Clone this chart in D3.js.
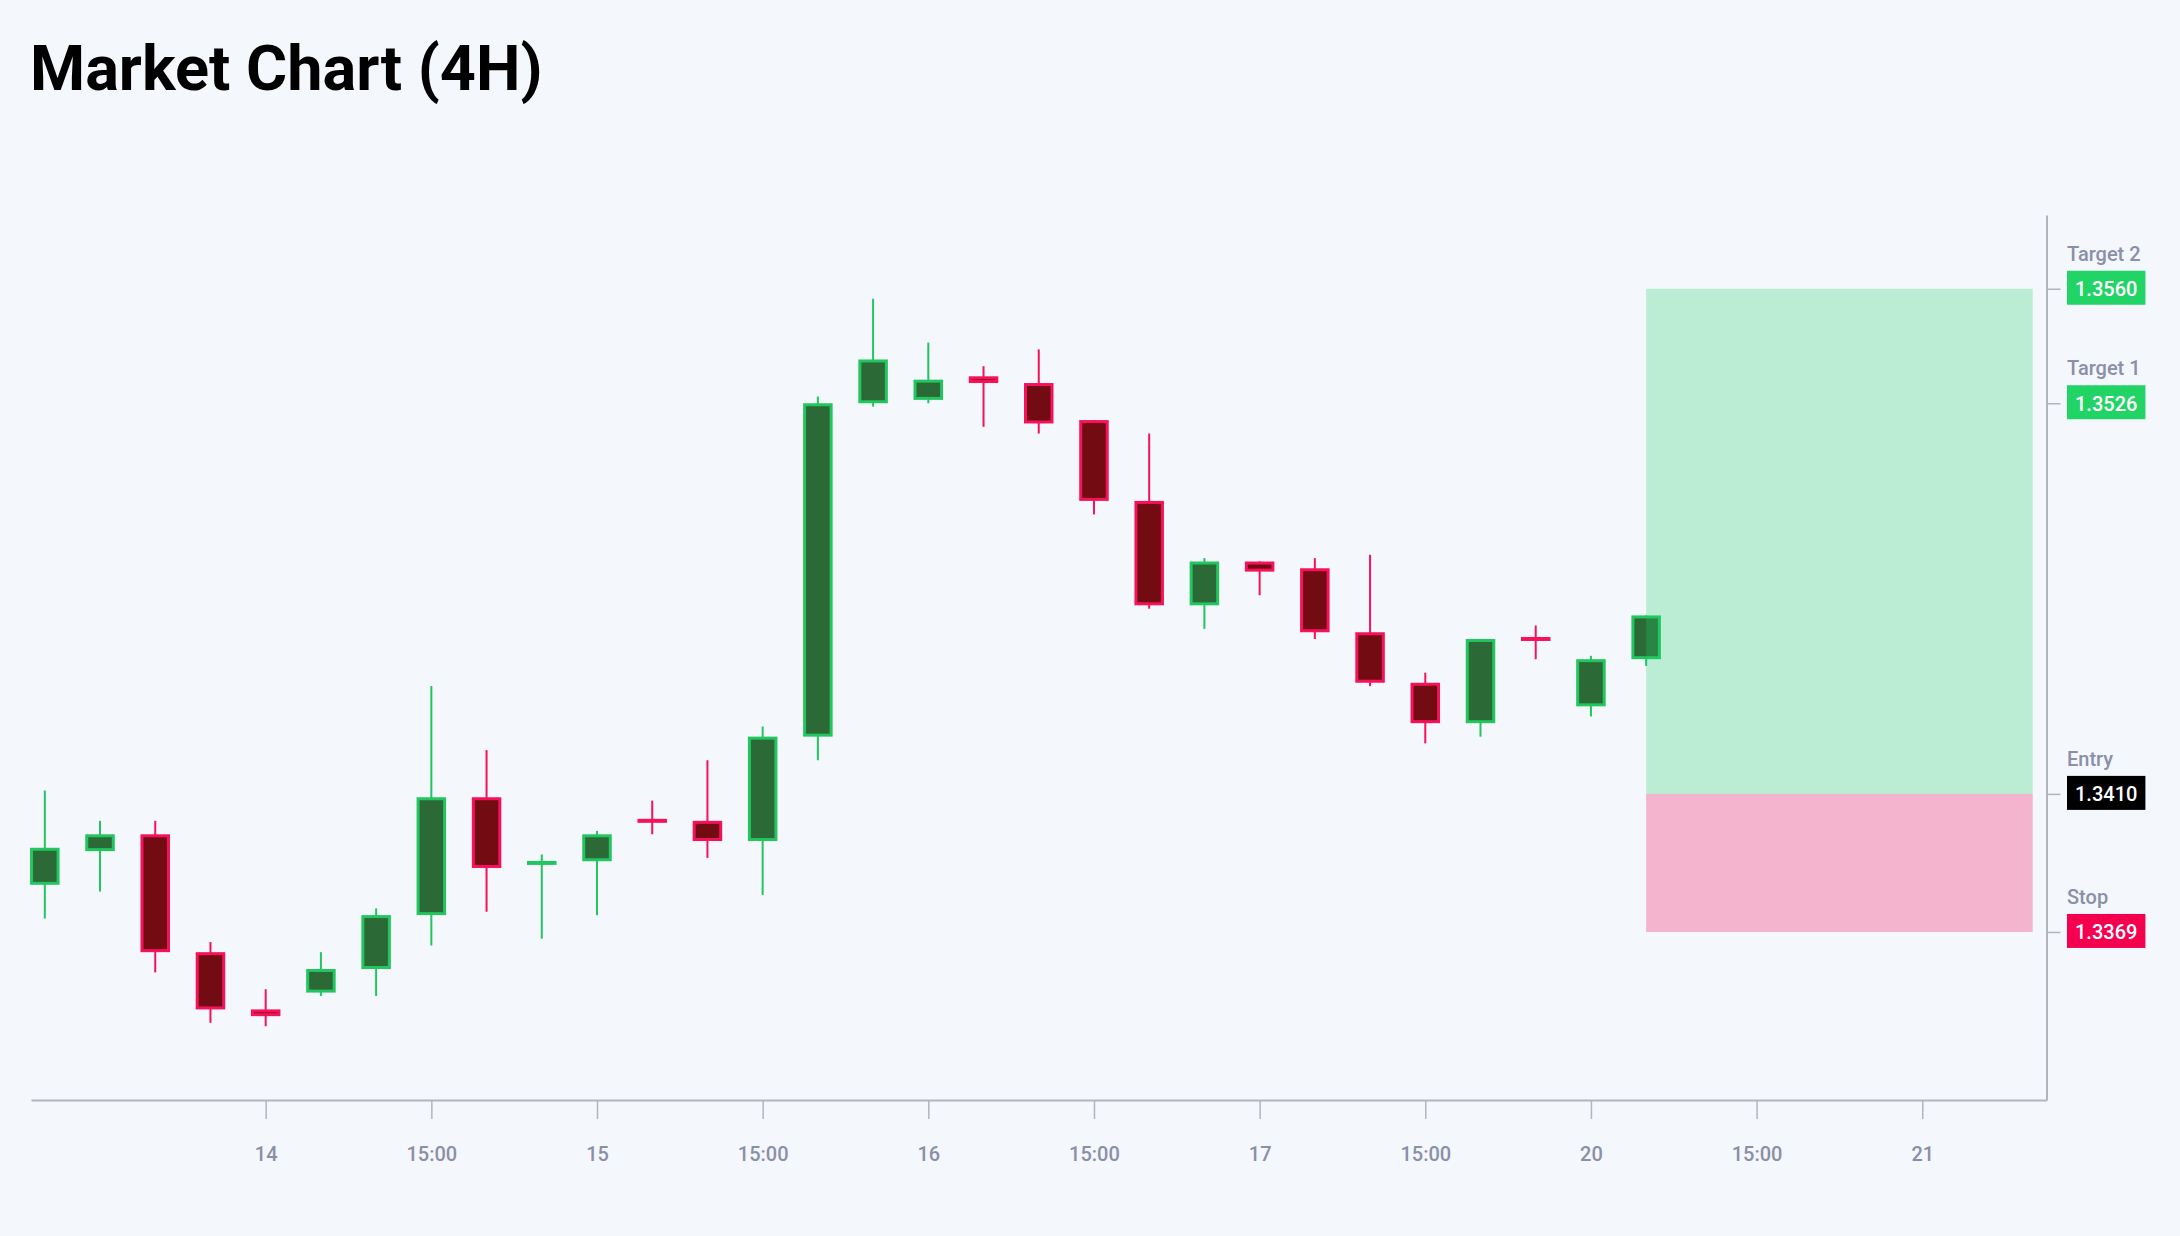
<!DOCTYPE html>
<html>
<head>
<meta charset="utf-8">
<script src="https://cdn.jsdelivr.net/npm/d3@7"></script>
<style>
  html, body { margin: 0; padding: 0; background: #f4f7fc; }
  svg { display: block; font-family: Roboto, 'Noto Sans', sans-serif; }
</style>
</head>
<body>
<div id="chart"></div>
<script>
'use strict'

// 4H candles, oldest first
const opens  = [1.3383, 1.3393, 1.3398, 1.3363, 1.3346, 1.3351, 1.3358, 1.3374, 1.3409, 1.3389,
                1.3390, 1.3402, 1.3402, 1.3396, 1.3427, 1.3526, 1.3527, 1.3534, 1.3532, 1.3521,
                1.3497, 1.3466, 1.3479, 1.3477, 1.3458, 1.3443, 1.3431, 1.3456, 1.3436, 1.3450]
const highs  = [1.3411, 1.3402, 1.3402, 1.3366, 1.3352, 1.3363, 1.3376, 1.3442, 1.3423, 1.3392,
                1.3399, 1.3408, 1.3420, 1.3430, 1.3528, 1.3557, 1.3544, 1.3537, 1.3542, 1.3521,
                1.3517, 1.3480, 1.3479, 1.3480, 1.3481, 1.3446, 1.3456, 1.3460, 1.3451, 1.3463]
const lows   = [1.3373, 1.3381, 1.3357, 1.3342, 1.3341, 1.3350, 1.3350, 1.3365, 1.3375, 1.3367,
                1.3374, 1.3398, 1.3391, 1.3380, 1.3420, 1.3525, 1.3526, 1.3519, 1.3517, 1.3493,
                1.3465, 1.3459, 1.3469, 1.3456, 1.3442, 1.3425, 1.3427, 1.3450, 1.3433, 1.3448]
const closes = [1.3394, 1.3398, 1.3363, 1.3346, 1.3344, 1.3358, 1.3374, 1.3409, 1.3388, 1.3390,
                1.3398, 1.3402, 1.3396, 1.3427, 1.3526, 1.3539, 1.3533, 1.3532, 1.3520, 1.3497,
                1.3466, 1.3479, 1.3476, 1.3458, 1.3443, 1.3431, 1.3456, 1.3456, 1.3450, 1.3463]

// x axis ticks (candle slots) and their labels
const tickSlots  = [4, 7, 10, 13, 16, 19, 22, 25, 28, 31, 34]
const tickLabels = ['14', '15:00', '15', '15:00', '16', '15:00', '17', '15:00', '20', '15:00', '21']

// trade plan levels
const levelNames  = ['Target 2', 'Target 1', 'Entry', 'Stop']
const levelPrices = [1.3560, 1.3526, 1.3410, 1.3369]
const levelColors = ['#22d466', '#22d466', '#000000', '#f5004f']

// projection zone, in candle slots
const zoneSlots = [29, 36]

const width = 2180
const height = 1236
const margin = {top: 215, right: 133.5, bottom: 136, left: 31}

const upStroke = '#22c55e'
const upFill = '#2b6936'
const downStroke = '#f5125a'
const downFill = '#730c12'
const axisColor = '#b3b5bd'
const labelColor = '#8b8fa8'

const candles = opens.map((o, i) => ({i, o, h: highs[i], l: lows[i], c: closes[i]}))

const svg = d3.select('#chart')
  .append('svg')
    .attr('width', width)
    .attr('height', height)

svg.append('rect')
  .attr('width', width)
  .attr('height', height)
  .attr('fill', '#f4f7fc')

svg.append('text')
  .attr('x', 30)
  .attr('y', 90)
  .attr('font-size', 63)
  .attr('font-weight', 700)
  .attr('fill', '#000')
  .text('Market Chart (4H)')

const x = d3.scaleLinear()
  .domain([-0.25, 36.25])
  .range([margin.left, width - margin.right])

const lo = d3.min(lows.concat(levelPrices))
const hi = d3.max(highs.concat(levelPrices))
const pad = (hi - lo) * 0.1
const y = d3.scaleLinear()
  .domain([lo - pad, hi + pad])
  .range([height - margin.bottom, margin.top])

const step = x(1) - x(0)
const bodyW = step * 0.48
const stroke = 3

// candles
const g = svg.append('g')
const candle = g.selectAll('g.candle')
  .data(candles)
  .join('g')
    .attr('class', 'candle')

candle.append('line')
  .attr('x1', d => x(d.i))
  .attr('x2', d => x(d.i))
  .attr('y1', d => y(d.h))
  .attr('y2', d => y(d.l))
  .attr('stroke', d => d.c > d.o ? upStroke : downStroke)
  .attr('stroke-width', 2)

candle.append('rect')
  .attr('x', d => x(d.i) - bodyW / 2)
  .attr('y', d => Math.min(y(Math.max(d.o, d.c)) + stroke / 2, (y(d.o) + y(d.c)) / 2 - 0.5))
  .attr('width', bodyW)
  .attr('height', d => Math.max(1, Math.abs(y(d.o) - y(d.c)) - stroke))
  .attr('fill', d => d.c > d.o ? upFill : downFill)
  .attr('stroke', d => d.c > d.o ? upStroke : downStroke)
  .attr('stroke-width', stroke)

// reward / risk zone
svg.append('rect')
  .attr('x', x(zoneSlots[0]))
  .attr('y', y(levelPrices[0]))
  .attr('width', x(zoneSlots[1]) - x(zoneSlots[0]))
  .attr('height', y(levelPrices[2]) - y(levelPrices[0]))
  .attr('fill', '#22d466')
  .attr('fill-opacity', 0.27)

svg.append('rect')
  .attr('x', x(zoneSlots[0]))
  .attr('y', y(levelPrices[2]))
  .attr('width', x(zoneSlots[1]) - x(zoneSlots[0]))
  .attr('height', y(levelPrices[3]) - y(levelPrices[2]))
  .attr('fill', '#f5004f')
  .attr('fill-opacity', 0.27)

// axes
const styleAxis = (axis, sel) => {
  sel.call(axis)
  sel.select('.domain').attr('stroke', axisColor).attr('stroke-width', 2)
  sel.selectAll('.tick line').attr('stroke', axisColor).attr('stroke-width', 1.5)
  sel.selectAll('text')
    .attr('fill', labelColor)
    .attr('font-size', 20)
    .attr('font-weight', 500)
    .attr('font-family', 'Roboto, sans-serif')
}

const xAxis = d3.axisBottom(x)
  .tickValues(tickSlots)
  .tickFormat((d, i) => tickLabels[i])
  .tickSize(19)
  .tickSizeOuter(0)
  .tickPadding(28)

svg.append('g')
  .attr('transform', `translate(0,${height - margin.bottom})`)
  .call(styleAxis.bind(null, xAxis))

const yAxis = d3.axisRight(y)
  .tickValues(levelPrices)
  .tickFormat('')
  .tickSize(14)
  .tickSizeOuter(0)

svg.append('g')
  .attr('transform', `translate(${width - margin.right},0)`)
  .call(styleAxis.bind(null, yAxis))

// level labels
const lx = width - margin.right + 20.5
const level = svg.append('g').selectAll('g')
  .data(levelPrices)
  .join('g')
    .attr('transform', d => `translate(${lx},${y(d)})`)

level.append('text')
  .attr('y', -28)
  .attr('font-size', 20)
  .attr('font-weight', 500)
  .attr('fill', labelColor)
  .text((d, i) => levelNames[i])

const valueText = level.append('text')
  .attr('x', 8)
  .attr('y', 7.5)
  .attr('font-size', 20)
  .attr('font-weight', 500)
  .attr('fill', '#fff')
  .text(d => d.toFixed(4))

valueText.each(function (d, i) {
  const w = this.getComputedTextLength()
  d3.select(this.parentNode).insert('rect', 'text:last-child')
    .attr('y', -18)
    .attr('width', w + 16)
    .attr('height', 34)
    .attr('fill', levelColors[i])
})
</script>
</body>
</html>
